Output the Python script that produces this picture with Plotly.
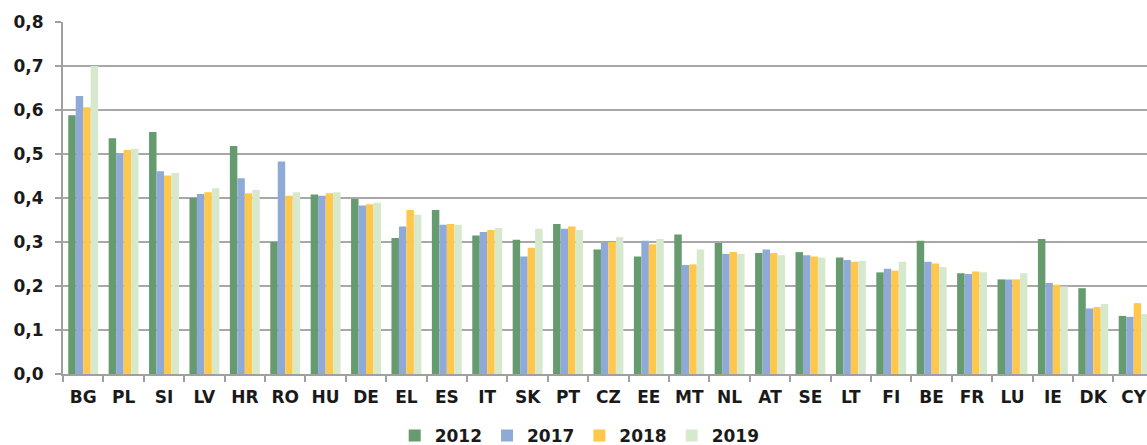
import plotly.graph_objects as go

countries = ["BG", "PL", "SI", "LV", "HR", "RO", "HU", "DE", "EL", "ES", "IT", "SK", "PT", "CZ",
             "EE", "MT", "NL", "AT", "SE", "LT", "FI", "BE", "FR", "LU", "IE", "DK", "CY"]
v2012 = [0.588, 0.536, 0.550, 0.400, 0.518, 0.300, 0.408, 0.398, 0.309, 0.373, 0.315, 0.305, 0.341, 0.283,
         0.267, 0.317, 0.298, 0.275, 0.277, 0.265, 0.231, 0.303, 0.229, 0.215, 0.307, 0.195, 0.132]
v2017 = [0.632, 0.500, 0.461, 0.409, 0.445, 0.483, 0.405, 0.383, 0.335, 0.339, 0.323, 0.267, 0.330, 0.298,
         0.303, 0.248, 0.273, 0.283, 0.270, 0.259, 0.239, 0.255, 0.227, 0.215, 0.207, 0.149, 0.130]
v2018 = [0.606, 0.509, 0.451, 0.413, 0.411, 0.405, 0.411, 0.386, 0.373, 0.341, 0.327, 0.287, 0.335, 0.300,
         0.295, 0.249, 0.277, 0.275, 0.267, 0.255, 0.235, 0.251, 0.233, 0.215, 0.203, 0.152, 0.161]
v2019 = [0.700, 0.512, 0.457, 0.422, 0.418, 0.413, 0.413, 0.389, 0.362, 0.339, 0.332, 0.330, 0.327, 0.311,
         0.307, 0.283, 0.273, 0.270, 0.265, 0.257, 0.255, 0.243, 0.231, 0.229, 0.199, 0.159, 0.136]
years = ["2012", "2017", "2018", "2019"]
colors = ["#669a6f", "#8faad7", "#ffc84c", "#d6e9cc"]

FONT = "DejaVu Sans"
TXT = "#1a1a1a"

fig = go.Figure()
for name, vals, col in zip(years, [v2012, v2017, v2018, v2019], colors):
    fig.add_trace(go.Bar(x=countries, y=vals, name=name, marker=dict(color=col, line=dict(width=0))))

fig.update_layout(
    width=1147, height=445,
    paper_bgcolor="white", plot_bgcolor="white",
    margin=dict(l=63, r=0, t=22, b=71, autoexpand=False),
    barmode="group", bargap=0.26, bargroupgap=0,
    separators=", ",
    font=dict(family=FONT, color=TXT, weight="bold"),
    legend=dict(orientation="h", x=0.306, xanchor="left", y=-0.176, yanchor="middle",
                font=dict(size=17, color=TXT, family=FONT, weight="bold"),
                itemwidth=30, traceorder="normal", tracegroupgap=0),
    showlegend=True,
)
fig.update_xaxes(
    type="category", range=[-0.5, 26.33], automargin=False,
    tickson="boundaries", ticks="outside", ticklen=6, tickcolor="#a0a0a0", tickwidth=2,
    showline=True, linecolor="#a0a0a0", linewidth=2, ticklabelstandoff=7,
    tickfont=dict(size=17, color=TXT, family=FONT, weight="bold"), showgrid=False,
)
fig.update_yaxes(
    range=[0, 0.8], dtick=0.1, tickformat=".1f", automargin=False,
    showgrid=True, gridcolor="#a8a8a8", gridwidth=2,
    showline=True, linecolor="#a0a0a0", linewidth=2,
    ticks="outside", ticklen=6, tickcolor="#a0a0a0", tickwidth=2, ticklabelstandoff=8,
    tickfont=dict(size=17, color=TXT, family=FONT, weight="bold"), zeroline=False,
)

fig.write_html("out.html", config={"displayModeBar": False},
               post_script="document.body.style.margin='0';")
